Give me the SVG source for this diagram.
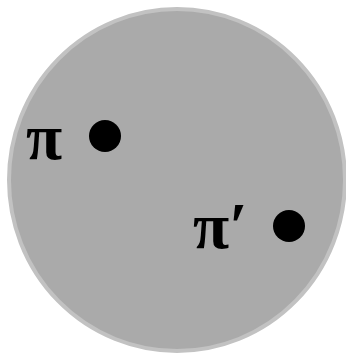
<svg xmlns="http://www.w3.org/2000/svg" width="346" height="357" viewBox="0 0 346 357">
<style>
.lbl{font-family:"Liberation Serif","DejaVu Serif",serif;font-weight:bold;font-size:66px;fill:#000}
.dot{fill:#000}
</style>
<rect width="346" height="357" fill="#fff"/>
<g id="region">
<ellipse cx="177" cy="180" rx="168" ry="171" fill="#aaaaaa" stroke="#c2c2c2" stroke-width="4"/>
</g>
<g id="p1">
<circle class="dot" cx="105" cy="136" r="16"/>
<text class="lbl" x="26" y="159">π</text>
</g>
<g id="p2">
<circle class="dot" cx="289" cy="226" r="16"/>
<text class="lbl" x="193" y="248">π′</text>
</g>
</svg>
